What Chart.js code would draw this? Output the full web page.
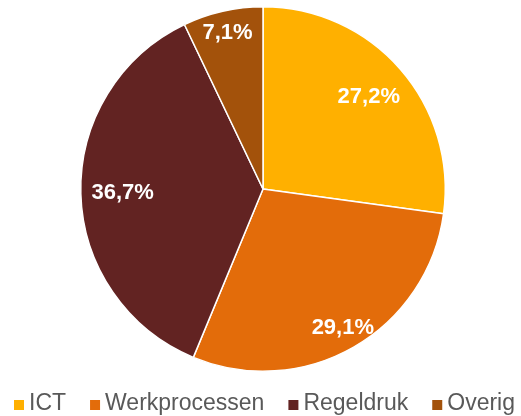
<!DOCTYPE html>
<html>
<head>
<meta charset="utf-8">
<script src="https://cdn.jsdelivr.net/npm/chart.js@4"></script>
<style>
  html, body { margin: 0; padding: 0; background: #fff; overflow: hidden; }
  #wrap { width: 521px; height: 416px; position: relative; }
</style>
</head>
<body>
<div id="wrap"><canvas id="pieChart"></canvas></div>
<script>
// data
const categories = ["ICT", "Werkprocessen", "Regeldruk", "Overig"];
const shares = [27.2, 29.1, 36.7, 7.1];
const sliceColors = ["#FFB000", "#E36C0A", "#622322", "#A3520B"];

// how far out (fraction of radius) each percentage label sits
const labelRadius = [0.77, 0.88, 0.77, 0.88];

// percentage labels inside the slices
const sliceLabels = {
  id: "sliceLabels",
  afterDatasetsDraw(chart) {
    const ctx = chart.ctx;
    const meta = chart.getDatasetMeta(0);
    ctx.save();
    ctx.font = "bold 22px 'Liberation Sans', Arial, sans-serif";
    ctx.fillStyle = "#ffffff";
    ctx.textAlign = "center";
    ctx.textBaseline = "middle";
    meta.data.forEach(function (arc, i) {
      const p = arc.getProps(["x", "y", "startAngle", "endAngle", "outerRadius"], true);
      const mid = (p.startAngle + p.endAngle) / 2;
      const r = p.outerRadius * labelRadius[i];
      const txt = shares[i].toFixed(1).replace(".", ",") + "%";
      ctx.fillText(txt, p.x + Math.cos(mid) * r, p.y + Math.sin(mid) * r);
    });
    ctx.restore();
  },
};

// legend along the bottom, runs off the right edge like the original
const bottomLegend = {
  id: "bottomLegend",
  afterDraw(chart) {
    const ctx = chart.ctx;
    ctx.save();
    ctx.font = "23px 'Liberation Sans', Arial, sans-serif";
    ctx.textBaseline = "middle";
    let x = 14;
    const y = 404;
    categories.forEach(function (name, i) {
      ctx.fillStyle = sliceColors[i];
      ctx.fillRect(x, y - 4, 10, 10);
      ctx.fillStyle = "#595959";
      ctx.fillText(name, x + 15, y);
      x += 15 + ctx.measureText(name).width + 24;
    });
    ctx.restore();
  },
};

document.addEventListener("DOMContentLoaded", function () {
  const ctx = document.getElementById("pieChart").getContext("2d");
  new Chart(ctx, {
    type: "pie",
    data: {
      labels: categories,
      datasets: [
        {
          data: shares,
          backgroundColor: sliceColors,
          borderColor: "#ffffff",
          borderWidth: 1.5,
        },
      ],
    },
    options: {
      responsive: true,
      maintainAspectRatio: false,
      animation: false,
      layout: {
        padding: { top: 6, bottom: 44, left: 80, right: 75 },
      },
      plugins: {
        legend: { display: false },
        tooltip: { enabled: false },
      },
    },
    plugins: [sliceLabels, bottomLegend],
  });
});
</script>
</body>
</html>
